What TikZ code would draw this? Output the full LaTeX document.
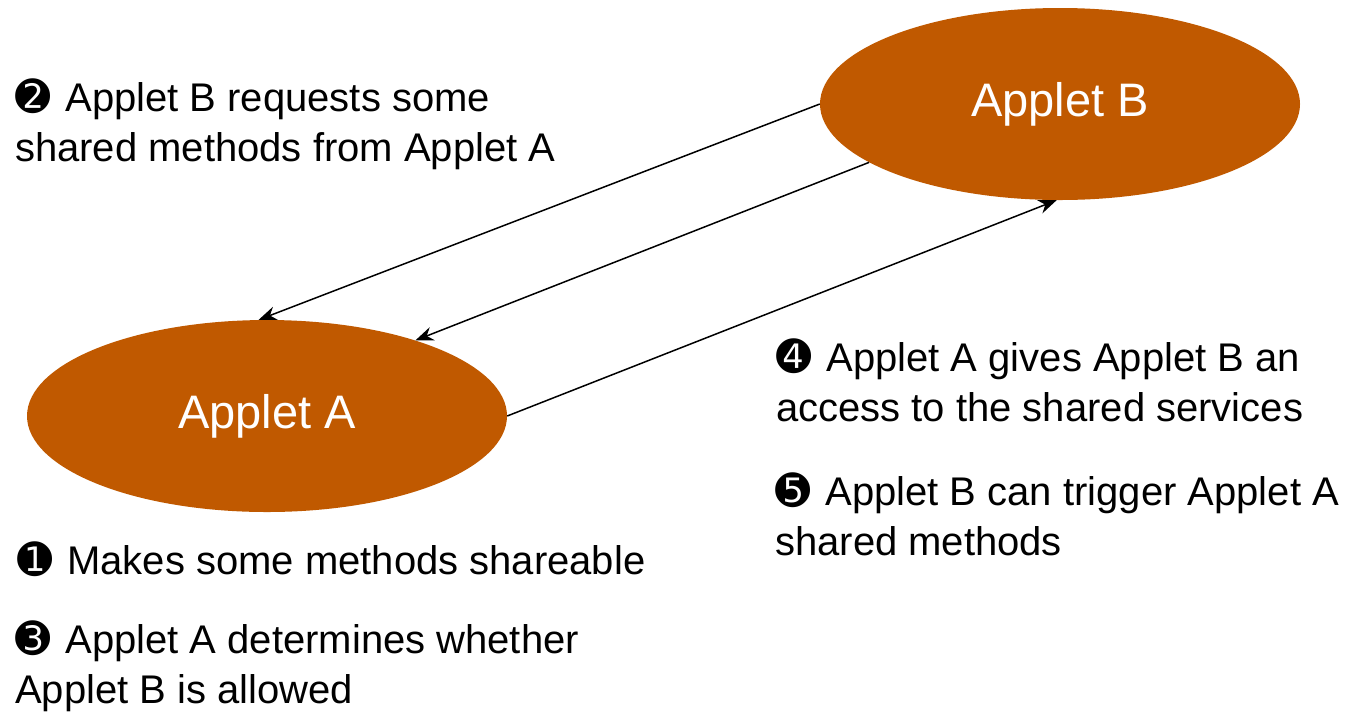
\documentclass[tikz,border=0pt]{standalone}
\usepackage{fontspec}
\setmainfont{Liberation Sans}
\newfontfamily\dingfont{DejaVu Sans}
\usepackage{tikz}
\usetikzlibrary{shapes.geometric,arrows.meta}
\definecolor{appletorange}{RGB}{192,89,0}
\newcommand{\stepno}[1]{{\dingfont\fontsize{42}{42}\selectfont #1}\hspace{15pt}}

\begin{document}
\begin{tikzpicture}[x=1pt,y=-1pt,>={Stealth[length=18pt,width=14pt]}]
\tikzset{applet/.style={ellipse,fill=appletorange,text=white,inner sep=0,
    minimum width=480pt,minimum height=192pt,font=\fontsize{47}{47}\selectfont},
  note/.style={anchor=base west,inner sep=0,align=left,font=\fontsize{40}{50}\selectfont},
  link/.style={->,line width=1.5pt}}
\useasboundingbox (0,0) rectangle (1346,713);

%the two applets
    \node[applet] (B) at (1060,104) {Applet B};
    \node[applet] (A) at (267,416) {Applet A};

%the requests and the access
    \draw[link] (B.180) -- (A.95);
    \draw[link] (B.197) -- (A.27);
    \draw[link] (A.0) -- (B.268);

%the steps (base = last line)
    \node[note] (s2) at (15,161) {\stepno{➋}Applet B requests some\\shared methods from Applet A};
    \node[note] (s1) at (17,574) {\stepno{➊}Makes some methods shareable};
    \node[note] (s3) at (15,703) {\stepno{➌}Applet A determines whether\\Applet B is allowed};
    \node[note] (s4) at (776,421) {\stepno{➍}Applet A gives Applet B an\\access to the shared services};
    \node[note] (s5) at (775,555) {\stepno{➎}Applet B can trigger Applet A\\shared methods};
\end{tikzpicture}
\end{document}
